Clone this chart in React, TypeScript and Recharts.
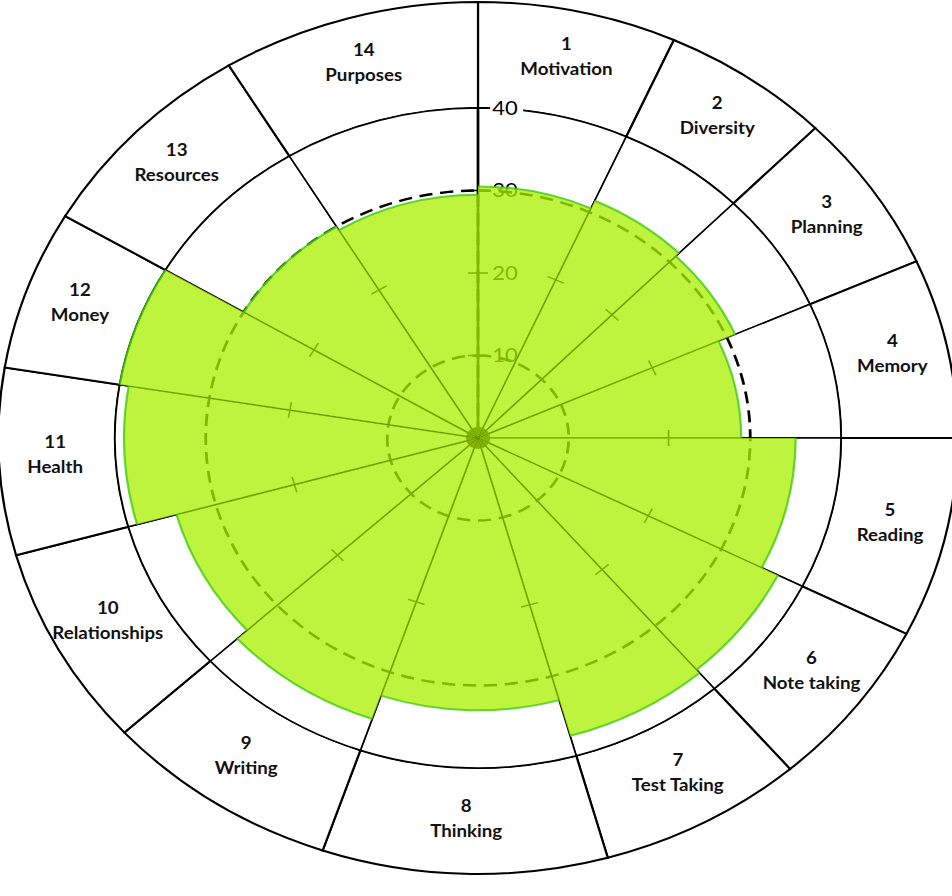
import { PieChart, Pie, Cell, PolarRadiusAxis } from "recharts";

const CATEGORIES = [
  "Motivation", "Diversity", "Planning", "Memory", "Reading", "Note taking", "Test Taking",
  "Thinking", "Writing", "Relationships", "Health", "Money", "Resources", "Purposes",
];
// hand-drawn wheel: the sectors are not all the same width (degrees)
const SPANS = [24.1, 20.6, 21.4, 23.9, 26.7, 22.7, 24.9, 34.6, 28.6, 26.9, 24.9, 21.3, 28.1, 31.3];
const SCORES = [30.5, 31.5, 31, 29, 35, 37, 37.5, 33, 36, 34.5, 39, 40, 30, 29.5];
const AXIS_TICKS = [10, 20, 30, 40];
const DASHED_RINGS = [10, 30];
const MAX_SCORE = 40;

const CX = 478;
const CY = 438;
const R_MAX = 330;
const R_RIM = 436;
const GREEN = "#aaf000";
const EDGE = "#3fcc10";
const FONT = "Lato, 'Open Sans', sans-serif";
const RADIAN = Math.PI / 180;

const sectors = CATEGORIES.map((name, i) => ({
  no: i + 1,
  name,
  span: SPANS[i],
  score: SCORES[i],
}));

const rScale = (v: number) => (v / MAX_SCORE) * R_MAX;

// eslint-disable-next-line @typescript-eslint/no-explicit-any
function RimLabel(props: any) {
  const { cx, cy, midAngle, innerRadius, outerRadius } = props;
  const entry = props.payload ?? props;
  const r = (innerRadius + outerRadius) / 2 + 2;
  const x = cx + r * Math.cos(-midAngle * RADIAN);
  const y = cy + r * Math.sin(-midAngle * RADIAN);
  return (
    <text x={x} y={y} textAnchor="middle" fontSize={17} fontWeight={700} fill="#111" fontFamily={FONT}>
      <tspan x={x} dy={-11}>{entry.no}</tspan>
      <tspan x={x} dy={25}>{entry.name}</tspan>
    </text>
  );
}

// small cross mark on each spoke at 21
// eslint-disable-next-line @typescript-eslint/no-explicit-any
function SpokeTick(props: any) {
  const { cx, cy, startAngle, index } = props;
  if (index === 0) return <g />;
  const r = rScale(21);
  const a = startAngle * RADIAN;
  const x = cx + r * Math.cos(-a);
  const y = cy + r * Math.sin(-a);
  const tx = Math.sin(a) * 8;
  const ty = Math.cos(a) * 8;
  return <line x1={x - tx} y1={y - ty} x2={x + tx} y2={y + ty} stroke="#000" strokeWidth={1.5} />;
}

// eslint-disable-next-line @typescript-eslint/no-explicit-any
function AxisTick(props: any) {
  const { x, y, payload } = props;
  return (
    <g>
      <line x1={x - 9} x2={x + 9} y1={y} y2={y} stroke="#000" strokeWidth={1.5} />
      {payload.value === MAX_SCORE && <rect x={x + 11} y={y - 11} width={30} height={22} fill="#fff" />}
      <text x={x + 13} y={y} dy={7} fontSize={20} fill="#000" fontFamily={FONT}>
        {payload.value}
      </text>
    </g>
  );
}

export default function App() {
  return (
    <div style={{ position: "absolute", left: 0, top: 0, width: 952, height: 896, overflow: "hidden", background: "#fff" }}>
      <div style={{ transform: "scaleX(1.1)", transformOrigin: `${CX}px 0px` }}>
        <PieChart
          width={952}
          height={896}
          cx={CX}
          cy={CY}
          innerRadius={0}
          outerRadius={R_MAX}
          margin={{ top: 0, right: 0, bottom: 0, left: 0 }}
        >
          <Pie
            data={sectors}
            dataKey="span"
            nameKey="name"
            cx={CX}
            cy={CY}
            startAngle={90}
            endAngle={-270}
            innerRadius={R_MAX}
            outerRadius={R_RIM}
            fill="#fff"
            stroke="#000"
            strokeWidth={2}
            label={RimLabel}
            labelLine={false}
            isAnimationActive={false}
          />
          <Pie
            data={sectors}
            dataKey="span"
            nameKey="name"
            cx={CX}
            cy={CY}
            startAngle={90}
            endAngle={-270}
            innerRadius={0}
            outerRadius={R_MAX}
            fill="#fff"
            stroke="#000"
            strokeWidth={1.5}
            label={SpokeTick}
            labelLine={false}
            isAnimationActive={false}
          />
          {DASHED_RINGS.map((t) => (
            <Pie
              key={t}
              data={[{ ring: t, v: 1 }]}
              dataKey="v"
              cx={CX}
              cy={CY}
              startAngle={90}
              endAngle={-270}
              innerRadius={0}
              outerRadius={rScale(t)}
              fill="none"
              stroke="#000"
              strokeWidth={2.5}
              strokeDasharray="12 7"
              isAnimationActive={false}
            />
          ))}
          <PolarRadiusAxis
            angle={90}
            type="number"
            domain={[0, MAX_SCORE]}
            ticks={AXIS_TICKS}
            allowDataOverflow
            axisLine={{ stroke: "#000", strokeWidth: 2.5 }}
            tick={AxisTick}
          />
          <Pie
            data={[{ v: 1 }]}
            dataKey="v"
            cx={CX}
            cy={CY}
            innerRadius={0}
            outerRadius={11}
            fill="#000"
            stroke="none"
            isAnimationActive={false}
          />
          {sectors.map((s, i) => (
            <Pie
              key={s.name}
              data={sectors}
              dataKey="span"
              nameKey="name"
              cx={CX}
              cy={CY}
              startAngle={90}
              endAngle={-270}
              innerRadius={0}
              outerRadius={rScale(s.score)}
              stroke="none"
              fillOpacity={0.76}
              zIndex={2500}
              isAnimationActive={false}
            >
              {sectors.map((_, j) => (
                <Cell key={j} fill={j === i ? GREEN : "none"} />
              ))}
            </Pie>
          ))}
          {/* darker green rim along the outer edge of each score wedge */}
          {sectors.map((s, i) => (
            <Pie
              key={`edge-${s.name}`}
              data={sectors}
              dataKey="span"
              nameKey="name"
              cx={CX}
              cy={CY}
              startAngle={90}
              endAngle={-270}
              innerRadius={rScale(s.score)}
              outerRadius={rScale(s.score)}
              fill="none"
              strokeWidth={2}
              strokeOpacity={0.8}
              zIndex={2600}
              isAnimationActive={false}
            >
              {sectors.map((_, j) => (
                <Cell key={j} fill="none" stroke={j === i ? EDGE : "none"} />
              ))}
            </Pie>
          ))}
        </PieChart>
      </div>
    </div>
  );
}
